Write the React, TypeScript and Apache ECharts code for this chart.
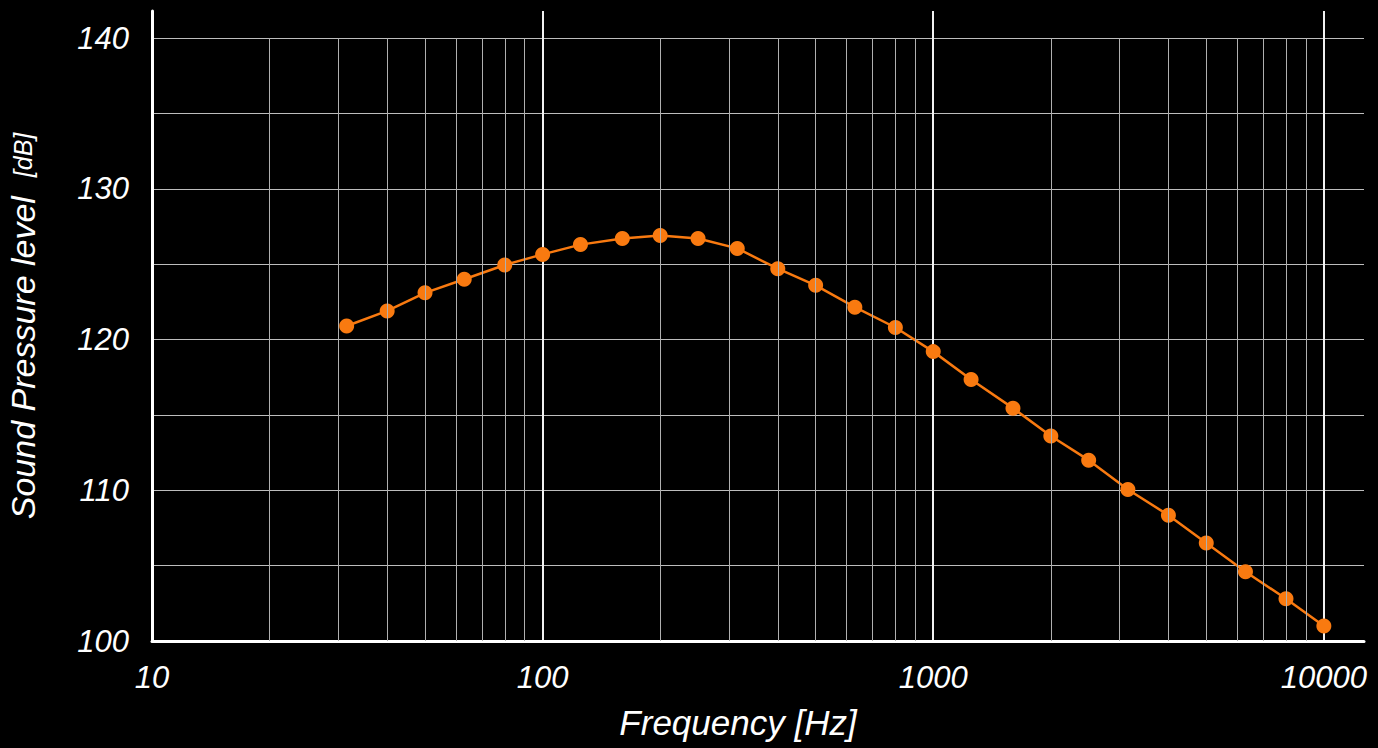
import React, { useEffect, useRef } from "react";
import * as echarts from "echarts";

const frequencies = [31.5, 40, 50, 63, 80, 100, 125, 160, 200, 250, 315, 400, 500, 630, 800, 1000, 1250, 1600, 2000, 2500, 3150, 4000, 5000, 6300, 8000, 10000];
const splValues = [120.9, 121.9, 123.1, 124.0, 124.95, 125.65, 126.3, 126.7, 126.9, 126.7, 126.05, 124.7, 123.6, 122.15, 120.8, 119.2, 117.35, 115.45, 113.6, 112.0, 110.05, 108.35, 106.5, 104.6, 102.8, 101.0];
const minorFrequencies = [20, 30, 40, 50, 60, 70, 80, 90, 200, 300, 400, 500, 600, 700, 800, 900, 2000, 3000, 4000, 5000, 6000, 7000, 8000, 9000];
const xTickLabels = ["10", "100", "1000", "10000"];
const yTickLabels = ["100", "110", "120", "130", "140"];

const FONT = "'Liberation Sans Narrow', 'Liberation Sans', Arial, sans-serif";

export default function App() {
  const ref = useRef<HTMLDivElement>(null);
  useEffect(() => {
    document.body.style.margin = "0";
    document.body.style.background = "#000";
    const chart = echarts.init(ref.current!, null, { renderer: "svg" });
    const data = frequencies.map((f, i) => [f, splValues[i]]);
    chart.setOption({
      animation: false,
      backgroundColor: "#000",
      grid: { left: 152, right: 14, top: 11, bottom: 107, outerBoundsMode: "none" },
      xAxis: {
        type: "log",
        logBase: 10,
        min: 10,
        max: 12670,
        name: "Frequency [Hz]",
        nameLocation: "middle",
        nameGap: 64,
        nameTextStyle: { color: "#fff", fontFamily: FONT, fontStyle: "italic", fontSize: 35, padding: [0, 40, 0, 0] },
        axisLine: { show: true, lineStyle: { color: "#fff", width: 3 } },
        axisTick: { show: false },
        axisLabel: {
          color: "#fff",
          fontFamily: FONT,
          fontStyle: "italic",
          fontSize: 31,
          margin: 21,
          formatter: (v: number) => {
            const s = String(Math.round(v));
            return xTickLabels.includes(s) ? s : "";
          },
        },
        splitLine: { show: true, showMaxLine: false, lineStyle: { color: "#f2f2f2", width: 2 } },
      },
      yAxis: {
        type: "value",
        min: 100,
        max: 141.8,
        interval: 5,
        name: "{a|Sound Pressure level}  {b|[dB]}",
        nameLocation: "middle",
        nameGap: 112,
        nameTextStyle: {
          color: "#fff",
          fontFamily: FONT,
          fontStyle: "italic",
          fontSize: 34,
          rich: {
            a: { color: "#fff", fontFamily: FONT, fontStyle: "italic", fontSize: 34 },
            b: { color: "#fff", fontFamily: FONT, fontStyle: "italic", fontSize: 25 },
          },
        },
        axisLine: { show: true, lineStyle: { color: "#fff", width: 3 } },
        axisTick: { show: false },
        axisLabel: {
          color: "#fff",
          fontFamily: FONT,
          fontStyle: "italic",
          fontSize: 31,
          margin: 23,
          formatter: (v: number) => {
            const s = String(Math.round(v));
            return Math.abs(v - Math.round(v)) < 1e-6 && yTickLabels.includes(s) ? s : "";
          },
        },
        splitLine: { show: true, showMaxLine: false, lineStyle: { color: "#bdbdbd", width: 1 } },
      },
      series: [
        {
          type: "line",
          z: 1,
          silent: true,
          data: [],
          markLine: {
            silent: true,
            symbol: ["none", "none"],
            label: { show: false },
            lineStyle: { color: "#b0b0b0", width: 1, type: "solid" },
            data: minorFrequencies.map((f) => [{ coord: [f, 100] }, { coord: [f, 140] }]),
          },
        },
        {
          type: "line",
          z: 3,
          data,
          symbol: "circle",
          symbolSize: 15,
          lineStyle: { color: "#f97a10", width: 2.5 },
          itemStyle: { color: "#f97a10" },
        },
      ],
    });
    return () => chart.dispose();
  }, []);
  return <div ref={ref} style={{ position: "fixed", left: 0, top: 0, width: 1378, height: 748, background: "#000" }} />;
}
